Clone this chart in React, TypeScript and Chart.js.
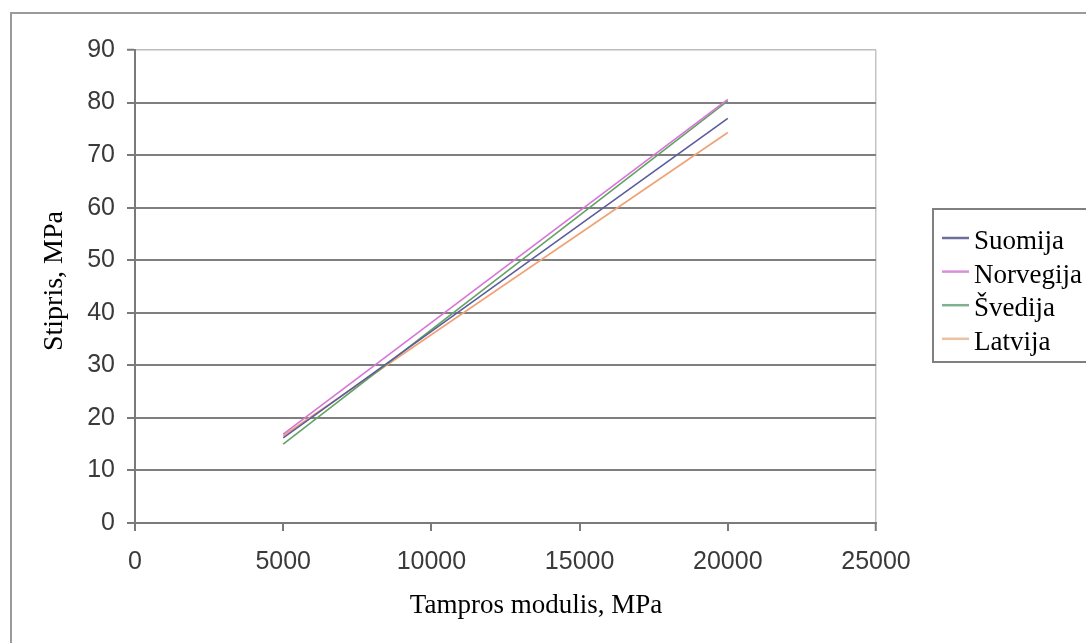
import React, { useEffect, useRef } from "react";
import { Chart, registerables } from "chart.js";

Chart.register(...registerables);

const xValues = [5000, 20000];
const seriesNames = ["Suomija", "Norvegija", "Švedija", "Latvija"];
const suomija = [16.2, 77.0];
const norvegija = [16.9, 80.6];
const svedija = [15.0, 80.3];
const latvija = [16.6, 74.3];
const seriesColors = ["#5c5c9c", "#d874d8", "#62a262", "#f0a274"];
const legendColors = ["#6e6e9e", "#d890d8", "#80b090", "#e8c2a2"];
const yTicks = [0, 10, 20, 30, 40, 50, 60, 70, 80, 90];
const xTicks = [0, 5000, 10000, 15000, 20000, 25000];
const xTitle = "Tampros modulis, MPa";
const yTitle = "Stipris, MPa";

const SERIF = '"Liberation Serif", "Times New Roman", serif';
const SANS = '"Liberation Sans", Arial, sans-serif';

export default function App() {
  const ref = useRef<HTMLCanvasElement | null>(null);

  useEffect(() => {
    const canvas = ref.current;
    if (!canvas) return;
    const allSeries = [suomija, norvegija, svedija, latvija];

    const decor = {
      id: "decor",
      beforeDraw(chart: any) {
        const c = chart.ctx;
        c.save();
        c.fillStyle = "#ffffff";
        c.fillRect(0, 0, chart.width, chart.height);
        c.strokeStyle = "#9a9a9a";
        c.lineWidth = 2;
        c.strokeRect(11, 13, 1200, 800);
        c.restore();
      },
      afterDraw(chart: any) {
        const c = chart.ctx;
        c.save();
        // axis titles
        c.fillStyle = "#000000";
        c.textAlign = "center";
        c.textBaseline = "middle";
        c.font = `27px ${SERIF}`;
        c.fillText(xTitle, 536, 606);
        c.font = `28px ${SERIF}`;
        c.translate(55, 281);
        c.rotate(-Math.PI / 2);
        c.fillText(yTitle, 0, 0);
        c.restore();

        // legend
        c.save();
        c.strokeStyle = "#808080";
        c.lineWidth = 2;
        c.strokeRect(933, 209, 300, 153);
        c.font = `27px ${SERIF}`;
        c.textAlign = "left";
        c.textBaseline = "alphabetic";
        seriesNames.forEach((name, i) => {
          const base = 249 + i * 33.6;
          const y = base - 11;
          c.strokeStyle = legendColors[i];
          c.lineWidth = 2.5;
          c.beginPath();
          c.moveTo(942, y);
          c.lineTo(969, y);
          c.stroke();
          c.fillStyle = "#000000";
          c.fillText(name, 974, base);
        });
        c.restore();
      },
    };

    const chart = new Chart(canvas, {
      type: "line",
      data: {
        datasets: seriesNames.map((name, i) => ({
          label: name,
          data: xValues.map((x, j) => ({ x, y: allSeries[i][j] })),
          borderColor: seriesColors[i],
          backgroundColor: seriesColors[i],
          borderWidth: 1.6,
          pointRadius: 0,
          fill: false,
          tension: 0,
        })),
      },
      options: {
        responsive: false,
        animation: false,
        layout: { padding: { left: 0, right: 210, top: 50, bottom: 0 } },
        plugins: {
          legend: { display: false },
          tooltip: { enabled: false },
          title: { display: false },
        },
        scales: {
          x: {
            type: "linear",
            min: 0,
            max: 25000,
            afterBuildTicks: (s: any) => {
              s.ticks = xTicks.map((v) => ({ value: v }));
            },
            afterFit: (s: any) => {
              s.height = 120;
            },
            ticks: {
              color: "#3a3a3a",
              font: { family: SANS, size: 25 },
              padding: 16,
              maxRotation: 0,
              autoSkip: false,
              callback: (v: any) => String(v),
            },
            grid: {
              color: (ctx: any) =>
                ctx.tick && ctx.tick.value === 25000 ? "#c4c4c4" : "rgba(0,0,0,0)",
              lineWidth: (ctx: any) => (ctx.tick && ctx.tick.value === 25000 ? 1.5 : 2),
              tickColor: "#7a7a7a",
              tickWidth: 2,
              tickLength: 8,
            },
            border: { color: "#7a7a7a", width: 2 },
          },
          y: {
            type: "linear",
            min: 0,
            max: 90,
            afterBuildTicks: (s: any) => {
              s.ticks = yTicks.map((v) => ({ value: v }));
            },
            afterFit: (s: any) => {
              s.width = 135;
            },
            ticks: {
              color: "#3a3a3a",
              font: { family: SANS, size: 25 },
              padding: 12,
              autoSkip: false,
              callback: (v: any) => String(v),
            },
            grid: {
              color: (ctx: any) =>
                ctx.tick && ctx.tick.value === 90 ? "#bdbdbd" : "#7f7f7f",
              lineWidth: (ctx: any) => (ctx.tick && ctx.tick.value === 90 ? 1.5 : 2),
              tickColor: "#7a7a7a",
              tickWidth: 2,
              tickLength: 8,
            },
            border: { color: "#7a7a7a", width: 2 },
          },
        },
      },
      plugins: [decor],
    });

    return () => chart.destroy();
  }, []);

  return (
    <div style={{ position: "fixed", left: 0, top: 0, width: 1086, height: 643, background: "#fff" }}>
      <canvas ref={ref} width={1086} height={643} style={{ display: "block" }} />
    </div>
  );
}
